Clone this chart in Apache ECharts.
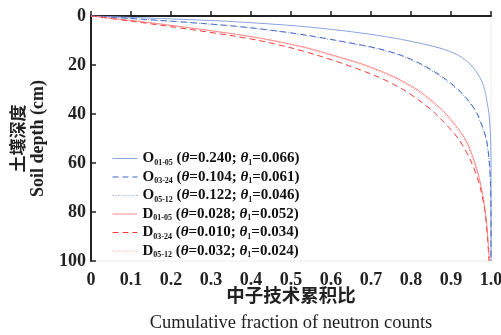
<!DOCTYPE html>
<html>
<head>
<meta charset="utf-8">
<script src="https://cdn.jsdelivr.net/npm/echarts@6/dist/echarts.min.js"></script>
<style>
  html, body { margin: 0; padding: 0; background: #fff; }
  #chart { width: 501px; height: 335px; }
</style>
</head>
<body>
<div id="chart"></div>
<script>
// Soil depth (cm) shared by every curve; each series gives the cumulative fraction at that depth.
const depth = [0, 2, 4, 6, 8, 10, 13, 16, 20, 25, 30, 35, 40, 50, 60, 70, 80, 90, 100];

const o0105 = [0, 0.32, 0.51, 0.63, 0.72, 0.79, 0.87, 0.918, 0.95, 0.972, 0.984, 0.99, 0.995, 0.999, 1, 1, 1, 1, 1];
const o0324 = [0, 0.19, 0.35, 0.46, 0.545, 0.615, 0.71, 0.775, 0.83, 0.88, 0.918, 0.946, 0.966, 0.988, 0.996, 0.999, 1, 1, 1];
const o0512 = [0, 0.185, 0.345, 0.455, 0.54, 0.61, 0.705, 0.77, 0.826, 0.876, 0.915, 0.944, 0.964, 0.987, 0.995, 0.999, 1, 1, 1];
const d0105 = [0, 0.11, 0.21, 0.30, 0.385, 0.455, 0.54, 0.605, 0.685, 0.76, 0.815, 0.855, 0.888, 0.935, 0.96, 0.976, 0.986, 0.992, 0.996];
const d0324 = [0, 0.095, 0.185, 0.27, 0.35, 0.42, 0.5, 0.565, 0.64, 0.72, 0.78, 0.825, 0.862, 0.918, 0.952, 0.973, 0.985, 0.991, 0.995];
const d0512 = [0, 0.106, 0.204, 0.293, 0.378, 0.448, 0.533, 0.598, 0.678, 0.753, 0.809, 0.85, 0.884, 0.932, 0.958, 0.975, 0.985, 0.991, 0.996];

const names = ['O01-05', 'O03-24', 'O05-12', 'D01-05', 'D03-24', 'D05-12'];
const theta = ['0.240', '0.104', '0.122', '0.028', '0.010', '0.032'];
const theta1 = ['0.066', '0.061', '0.046', '0.052', '0.034', '0.024'];

const xTicks = ['0', '0.1', '0.2', '0.3', '0.4', '0.5', '0.6', '0.7', '0.8', '0.9', '1.0'];

const serif = '"Liberation Serif", "Times New Roman", serif';
const cjk = '"Noto Sans CJK SC", sans-serif';

const styles = [
  { color: '#8aa4e2', type: 'solid' },
  { color: '#3f63c4', type: [6, 4] },
  { color: '#6f8fd8', type: [1, 2] },
  { color: '#ff8a8a', type: 'solid' },
  { color: '#f23a3a', type: [6, 4] },
  { color: '#ff8f8f', type: [1, 2] },
];

const values = [o0105, o0324, o0512, d0105, d0324, d0512];

const series = names.map((n, i) => ({
  name: n,
  type: 'line',
  symbol: 'none',
  smooth: 0.3,
  color: styles[i].color,
  lineStyle: { width: 1, type: styles[i].type, color: styles[i].color },
  data: values[i].map((f, k) => [f, depth[k]]),
}));

const chart = echarts.init(document.getElementById('chart'));
chart.setOption({
  animation: false,
  grid: {
    left: 91, right: 10, top: 16, bottom: 74,
    outerBoundsMode: 'none',
    show: true, borderColor: '#ececec', borderWidth: 1,
  },
  legend: {
    orient: 'vertical',
    left: 107,
    top: 146,
    itemWidth: 25,
    itemHeight: 12,
    itemGap: 3,
    // hide the marker, keep the line sample
    itemStyle: { color: 'transparent', borderColor: 'transparent', borderWidth: 0 },
    lineStyle: { width: 1 },
    data: names,
    formatter: (name) => {
      const i = names.indexOf(name);
      return `{b|${name[0]}}{sub|${name.slice(1)}}{n| (}{i|θ}{n|=${theta[i]}; }{i|θ}{sub|1}{n|=${theta1[i]})}`;
    },
    textStyle: {
      color: '#111',
      rich: {
        b: { fontFamily: serif, fontWeight: 'bold', fontSize: 15, lineHeight: 16 },
        n: { fontFamily: serif, fontWeight: 'bold', fontSize: 15, lineHeight: 16 },
        i: { fontFamily: serif, fontWeight: 'bold', fontStyle: 'italic', fontSize: 15, lineHeight: 16 },
        sub: { fontFamily: serif, fontWeight: 'bold', fontSize: 8, verticalAlign: 'bottom', lineHeight: 16, padding: [6, 0, 0, 0] },
      },
    },
  },
  xAxis: {
    type: 'value',
    min: 0, max: 1, interval: 0.1,
    name: '{c|中子技术累积比}\n{e|Cumulative fraction of neutron counts}',
    nameLocation: 'middle',
    nameGap: 20,
    nameMoveOverlap: false,
    nameTextStyle: {
      color: '#222', verticalAlign: 'top',
      rich: {
        c: { fontFamily: cjk, fontWeight: 'bold', fontSize: 18.5, lineHeight: 28, align: 'center' },
        e: { fontFamily: serif, fontSize: 18.5, lineHeight: 28, align: 'center' },
      },
    },
    axisLine: { lineStyle: { color: '#222', width: 2 } },
    axisTick: { inside: true, length: 5, lineStyle: { color: '#222', width: 1.5 } },
    splitLine: { show: false },
    axisLabel: {
      color: '#222', fontFamily: serif, fontWeight: 'bold', fontSize: 18, margin: 10,
      formatter: (v) => xTicks[Math.round(v * 10)],
    },
  },
  yAxis: {
    type: 'value',
    inverse: true,
    min: 0, max: 100, interval: 20,
    name: '{c|土壤深度}\n{e|Soil depth (cm)}',
    nameLocation: 'middle',
    nameRotate: 90,
    nameGap: 43,
    nameMoveOverlap: false,
    nameTextStyle: {
      color: '#222',
      rich: {
        c: { fontFamily: cjk, fontWeight: 'bold', fontSize: 17, lineHeight: 20, align: 'center' },
        e: { fontFamily: serif, fontWeight: 'bold', fontSize: 18, lineHeight: 20, align: 'center' },
      },
    },
    axisLine: { lineStyle: { color: '#222', width: 2 } },
    axisTick: { inside: true, length: 5, lineStyle: { color: '#222', width: 1.5 } },
    splitLine: { show: false },
    axisLabel: { color: '#222', fontFamily: serif, fontWeight: 'bold', fontSize: 18, margin: 5 },
  },
  series,
});
</script>
</body>
</html>
